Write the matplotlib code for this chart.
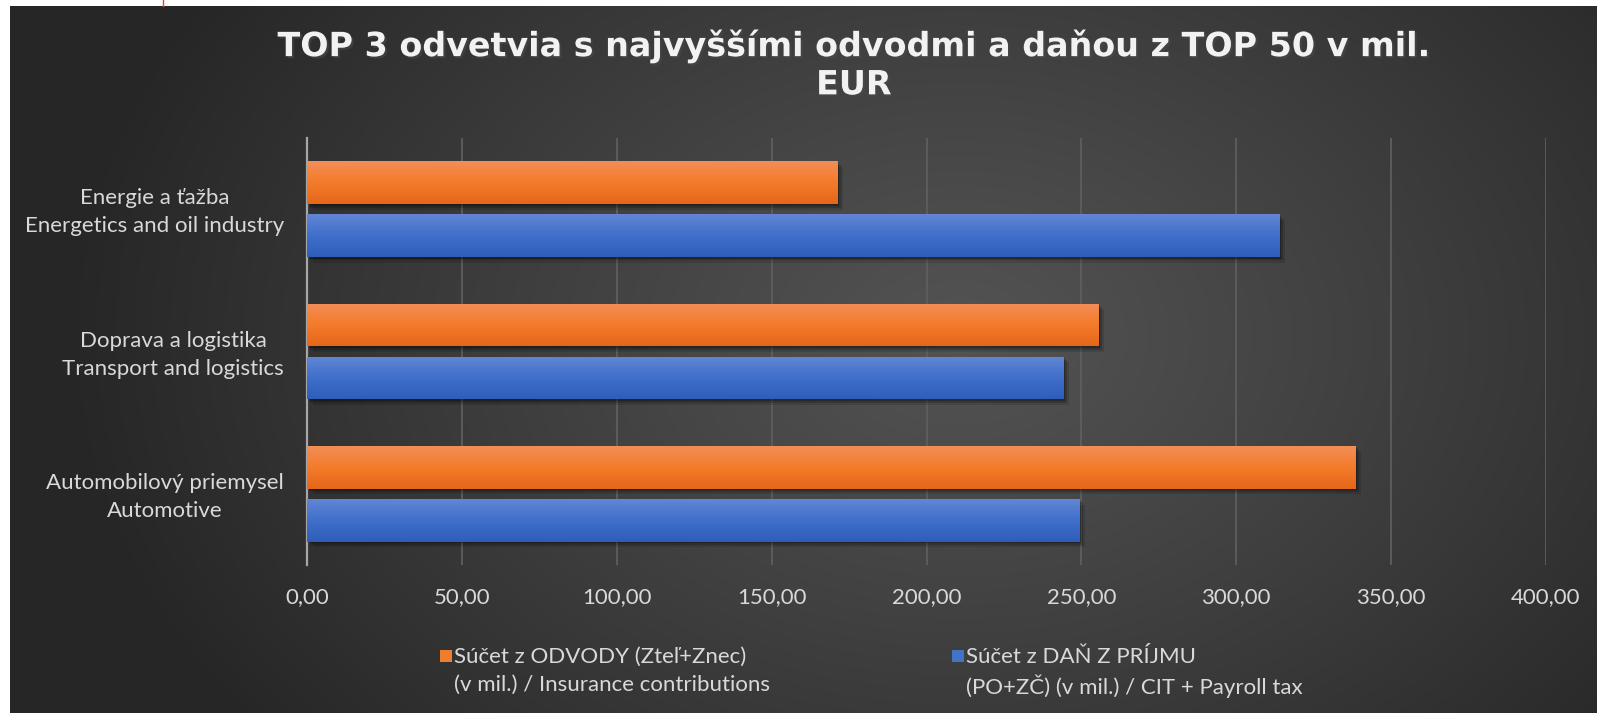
import numpy as np
import matplotlib
matplotlib.use("Agg")
import matplotlib.pyplot as plt
import matplotlib.patheffects as pe
import matplotlib.transforms as mtransforms
from matplotlib.patches import Rectangle
from matplotlib.colors import LinearSegmentedColormap

# ---------------- data ----------------
categories = [
    "Automobilový priemysel\nAutomotive",
    "Doprava a logistika\nTransport and logistics",
    "Energie a ťažba\nEnergetics and oil industry",
]
odvody = [338.4, 255.4, 171.2]          # Súčet z ODVODY
dan = [249.3, 244.3, 313.9]             # Súčet z DAŇ Z PRÍJMU
series_labels = [
    "Súčet z ODVODY (Zteľ+Znec)\n(v mil.) / Insurance contributions",
    "Súčet z DAŇ Z PRÍJMU\n(PO+ZČ) (v mil.) / CIT + Payroll tax",
]
xticks = [0, 50, 100, 150, 200, 250, 300, 350, 400]
xtick_labels = ["0,00", "50,00", "100,00", "150,00", "200,00",
                "250,00", "300,00", "350,00", "400,00"]
title = "TOP 3 odvetvia s najvyššími odvodmi a daňou z TOP 50 v mil.\nEUR"

# ---------------- figure ----------------
W, H = 1597, 713
fig = plt.figure(figsize=(W / 100, H / 100), dpi=100, facecolor="white")

# background panel with radial gradient
bx0, btop = 10, 6
bg = fig.add_axes([bx0 / W, 0, 1 - bx0 / W, 1 - btop / H], zorder=-10)
bw, bh = W - bx0, H - btop
yy, xx = np.mgrid[0:bh, 0:bw]
cx, cy = 950, 330
d = np.sqrt(((xx - cx) / 900.0) ** 2 + ((yy - cy) / 650.0) ** 2)
d = np.clip(d, 0, 1) ** 1.1
light = np.array([0x53, 0x53, 0x53]) / 255
dark = np.array([0x26, 0x26, 0x26]) / 255
img = light[None, None, :] * (1 - d[..., None]) + dark[None, None, :] * d[..., None]
bg.imshow(img, aspect="auto", extent=[0, 1, 0, 1])
bg.set_axis_off()

# main axes
ax_left, ax_right, ax_top, ax_bottom = 307, 1546, 138, 565
ax = fig.add_axes([ax_left / W, (H - ax_bottom) / H,
                   (ax_right - ax_left) / W, (ax_bottom - ax_top) / H])
ax.set_facecolor("none")

y = np.arange(len(categories))
bar_h = 0.30
off = 0.186
orange = "#ED7D31"
blue = "#4472C4"
shadow = [pe.SimplePatchShadow(offset=(4, -4), shadow_rgbFace="black", alpha=0.12),
          pe.SimplePatchShadow(offset=(2.5, -2.5), shadow_rgbFace="black", alpha=0.18),
          pe.SimplePatchShadow(offset=(1.2, -1.2), shadow_rgbFace="black", alpha=0.25),
          pe.Normal()]
bars_o = ax.barh(y + off, odvody, height=bar_h, color=orange, zorder=3, path_effects=shadow)
bars_b = ax.barh(y - off, dan, height=bar_h, color=blue, zorder=3, path_effects=shadow)

cmap_o = LinearSegmentedColormap.from_list("o", ["#F28E58", "#F47B2A", "#E5671A"])
cmap_b = LinearSegmentedColormap.from_list("b", ["#6286D4", "#3F6FCB", "#2E5EB8"])
grad = np.linspace(0, 1, 64).reshape(-1, 1)
for bars, cm in ((bars_o, cmap_o), (bars_b, cmap_b)):
    for p in bars:
        x0, y0 = p.get_x(), p.get_y()
        im = ax.imshow(grad, cmap=cm, aspect="auto", origin="upper",
                       extent=[x0, x0 + p.get_width(), y0, y0 + p.get_height()],
                       zorder=3.5, interpolation="bilinear")
        im.set_clip_path(p)

ax.set_xlim(0, 400)
ax.set_ylim(-0.5, len(categories) - 0.5)

ax.set_xticks(xticks, xtick_labels)
ax.set_yticks(y, categories)
for lbl in ax.get_yticklabels():
    lbl.set_multialignment("center")
    lbl.set_linespacing(1.5)

txt_color = "#D9D9D9"
font = "Lato"
fs = 16
ax.tick_params(axis="both", length=0, colors=txt_color, labelsize=fs)
ax.tick_params(axis="x", pad=16)
ax.tick_params(axis="y", pad=16.5)
for lbl in ax.get_xticklabels() + ax.get_yticklabels():
    lbl.set_fontfamily(font)
# lift the category labels a little (reference block sits slightly above centre)
lift = mtransforms.ScaledTranslation(0, 2 / 72, fig.dpi_scale_trans)
for lbl in ax.get_yticklabels():
    lbl.set_transform(lbl.get_transform() + lift)

ax.xaxis.grid(True, color="#5E5E5E", linewidth=1.3, zorder=0)
ax.yaxis.grid(False)
ax.set_axisbelow(True)
for s in ("top", "right", "bottom"):
    ax.spines[s].set_visible(False)
ax.spines["left"].set_color("#A6A6A6")
ax.spines["left"].set_linewidth(1.6)

# title
fig.text(854 / W, 1 - 65 / H, title, ha="center", va="center",
         fontsize=24, fontweight="bold", family="DejaVu Sans",
         color="#F2F2F2", linespacing=1.2, multialignment="center",
         path_effects=[pe.SimplePatchShadow(offset=(1.5, -1.5), alpha=0.6), pe.Normal()])

# legend (manual, handle aligned with first line)
leg_items = [(440, 454, orange, series_labels[0], 1.5),
             (952, 966, blue, series_labels[1], 1.38)]
for sx, tx, col, lab, ls in leg_items:
    fig.patches.append(Rectangle((sx / W, 1 - 662 / H), 12 / W, 12 / H,
                                 transform=fig.transFigure, facecolor=col,
                                 edgecolor="none", figure=fig))
    fig.text(tx / W, 1 - 647 / H, lab, ha="left", va="top", fontsize=fs,
             family=font, color=txt_color, linespacing=ls)

# small red mark at the top edge
fig.add_artist(plt.Line2D([163 / W, 163 / W], [1, 1 - 6 / H], color="#E04040",
                          linewidth=1.0, transform=fig.transFigure))

fig.savefig("out.png", dpi=100, facecolor=fig.get_facecolor())
